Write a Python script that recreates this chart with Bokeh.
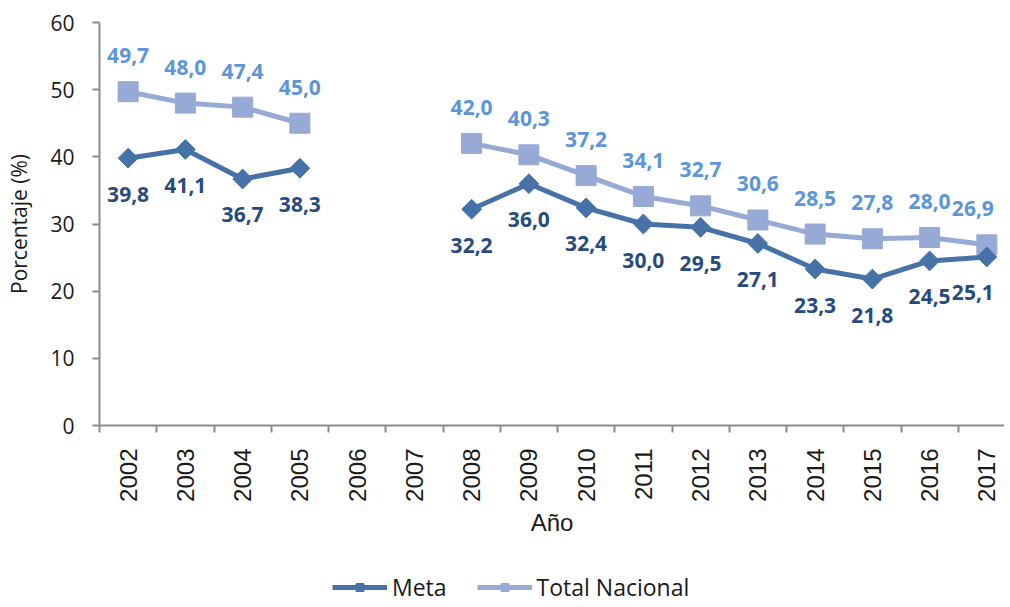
import math
from bokeh.plotting import figure
from bokeh.layouts import column
from bokeh.models import (Range1d, FixedTicker, ColumnDataSource, Legend, LegendItem)
from bokeh.core.properties import value
from bokeh.embed import file_html
from bokeh.resources import INLINE

years = ["2002", "2003", "2004", "2005", "2006", "2007", "2008", "2009",
         "2010", "2011", "2012", "2013", "2014", "2015", "2016", "2017"]
meta = [39.8, 41.1, 36.7, 38.3, None, None, 32.2, 36.0,
        32.4, 30.0, 29.5, 27.1, 23.3, 21.8, 24.5, 25.1]
total_nacional = [49.7, 48.0, 47.4, 45.0, None, None, 42.0, 40.3,
                  37.2, 34.1, 32.7, 30.6, 28.5, 27.8, 28.0, 26.9]
y_ticks = [0, 10, 20, 30, 40, 50, 60]

META_LINE = "#4672A8"
META_TEXT = "#284B7D"
TOT_LINE = "#96AAD5"
TOT_TEXT = "#5B95DA"
AXIS_GRAY = "#8C8C8C"

xs = list(range(len(years)))

def series(vals):
    return [float("nan") if v is None else v for v in vals]

def label_source(vals):
    px, py, txt, xo = [], [], [], []
    for i, v in enumerate(vals):
        if v is None:
            continue
        px.append(i)
        py.append(v)
        txt.append(f"{v:.1f}".replace(".", ","))
        xo.append(-14 if i == len(vals) - 1 else 0)
    return ColumnDataSource(dict(x=px, y=py, t=txt, xo=xo))

W, H = 1004, 548
LEFT, TOP, FRAME_H = 99, 22, 403
p = figure(width=W, height=H, output_backend="svg", toolbar_location=None,
           x_range=Range1d(-0.5, -0.5 + (W - LEFT) / 57.25), y_range=Range1d(0, 60),
           min_border_left=LEFT, min_border_right=0, min_border_top=TOP,
           min_border_bottom=H - TOP - FRAME_H)
p.outline_line_color = None
p.xgrid.visible = False
p.ygrid.visible = False
p.background_fill_color = "white"
p.border_fill_color = "white"

# axes
xa = p.xaxis[0]
xa.ticker = FixedTicker(ticks=xs, minor_ticks=[i - 0.5 for i in range(len(years) + 1)])
xa.major_label_overrides = {i: y for i, y in enumerate(years)}
xa.major_label_orientation = math.pi / 2
xa.major_tick_line_color = None
xa.major_tick_out = 0
xa.major_tick_in = 0
xa.minor_tick_line_color = AXIS_GRAY
xa.minor_tick_line_width = 2
xa.minor_tick_out = 7
xa.minor_tick_in = 0
xa.axis_line_color = AXIS_GRAY
xa.axis_line_width = 2
xa.major_label_text_font = "Liberation Sans"
xa.major_label_text_font_size = "24px"
xa.major_label_text_color = "#1a1a1a"
xa.major_label_standoff = 16
xa.axis_label = "Año"
xa.axis_label_text_font = "Liberation Sans"
xa.axis_label_text_font_size = "24px"
xa.axis_label_text_font_style = "normal"
xa.axis_label_text_color = "#1a1a1a"
xa.axis_label_standoff = 4

ya = p.yaxis[0]
ya.ticker = FixedTicker(ticks=y_ticks, minor_ticks=[])
ya.major_tick_line_color = AXIS_GRAY
ya.major_tick_line_width = 2
ya.major_tick_out = 7
ya.major_tick_in = 0
ya.minor_tick_line_color = None
ya.axis_line_color = AXIS_GRAY
ya.axis_line_width = 2
ya.major_label_text_font = "Open Sans"
ya.major_label_text_font_size = "21px"
ya.major_label_text_color = "#1a1a1a"
ya.major_label_standoff = 18
ya.axis_label = "Porcentaje (%)"
ya.axis_label_text_font = "Open Sans"
ya.axis_label_text_font_size = "21px"
ya.axis_label_text_font_style = "normal"
ya.axis_label_text_color = "#1a1a1a"
ya.axis_label_standoff = 14

# series
src = ColumnDataSource(dict(x=xs, meta=series(meta), tot=series(total_nacional)))

line_kw = dict(line_width=5)
tot_line_style = dict(line_color=TOT_LINE, **line_kw)
meta_line_style = dict(line_color=META_LINE, **line_kw)
tot_mark_style = dict(marker="square", size=20, fill_color=TOT_LINE, line_color=TOT_LINE)
meta_mark_style = dict(marker="square", angle=math.pi / 4, size=14,
                       fill_color=META_LINE, line_color=META_LINE)

p.line("x", "tot", source=src, **tot_line_style)
p.scatter("x", "tot", source=src, **tot_mark_style)
p.line("x", "meta", source=src, **meta_line_style)
p.scatter("x", "meta", source=src, **meta_mark_style)

p.text("x", "y", text="t", source=label_source(total_nacional), x_offset="xo",
       y_offset=-36, text_align="center", text_baseline="middle",
       text_font=value("Open Sans"), text_font_style="bold",
       text_font_size="21px", text_color=TOT_TEXT)
p.text("x", "y", text="t", source=label_source(meta), x_offset="xo",
       y_offset=36, text_align="center", text_baseline="middle",
       text_font=value("Open Sans"), text_font_style="bold",
       text_font_size="21px", text_color=META_TEXT)

# legend strip below the chart (its frame is aligned with the chart frame)
lf = figure(width=W, height=55, output_backend="svg", toolbar_location=None,
            x_range=Range1d(0, 1), y_range=Range1d(0, 1),
            min_border_left=0, min_border_right=0, min_border_top=0, min_border_bottom=0)
lf.axis.visible = False
lf.xgrid.visible = False
lf.ygrid.visible = False
lf.outline_line_color = None
lf.background_fill_color = "white"
lf.border_fill_color = "white"
# off-screen proxies so the legend can draw the series' styles
m_l = lf.line([-10, -9], [-10, -10], **meta_line_style)
m_s = lf.scatter([-10], [-10], **meta_mark_style)
t_l = lf.line([-10, -9], [-10, -10], **tot_line_style)
t_s = lf.scatter([-10], [-10], **tot_mark_style)

legend = Legend(items=[LegendItem(label="Meta", renderers=[m_l, m_s]),
                       LegendItem(label="Total Nacional", renderers=[t_l, t_s])],
                orientation="horizontal", location=(233, 0),
                glyph_width=55, glyph_height=20, label_height=24,
                label_standoff=5, spacing=30, padding=0, margin=0,
                border_line_color=None, background_fill_alpha=0,
                label_text_font="Open Sans", label_text_font_size="23px",
                label_text_color="#1a1a1a")
lf.add_layout(legend, "center")

layout = column(p, lf, spacing=0)
open("out.html", "w").write(file_html(layout, INLINE))
